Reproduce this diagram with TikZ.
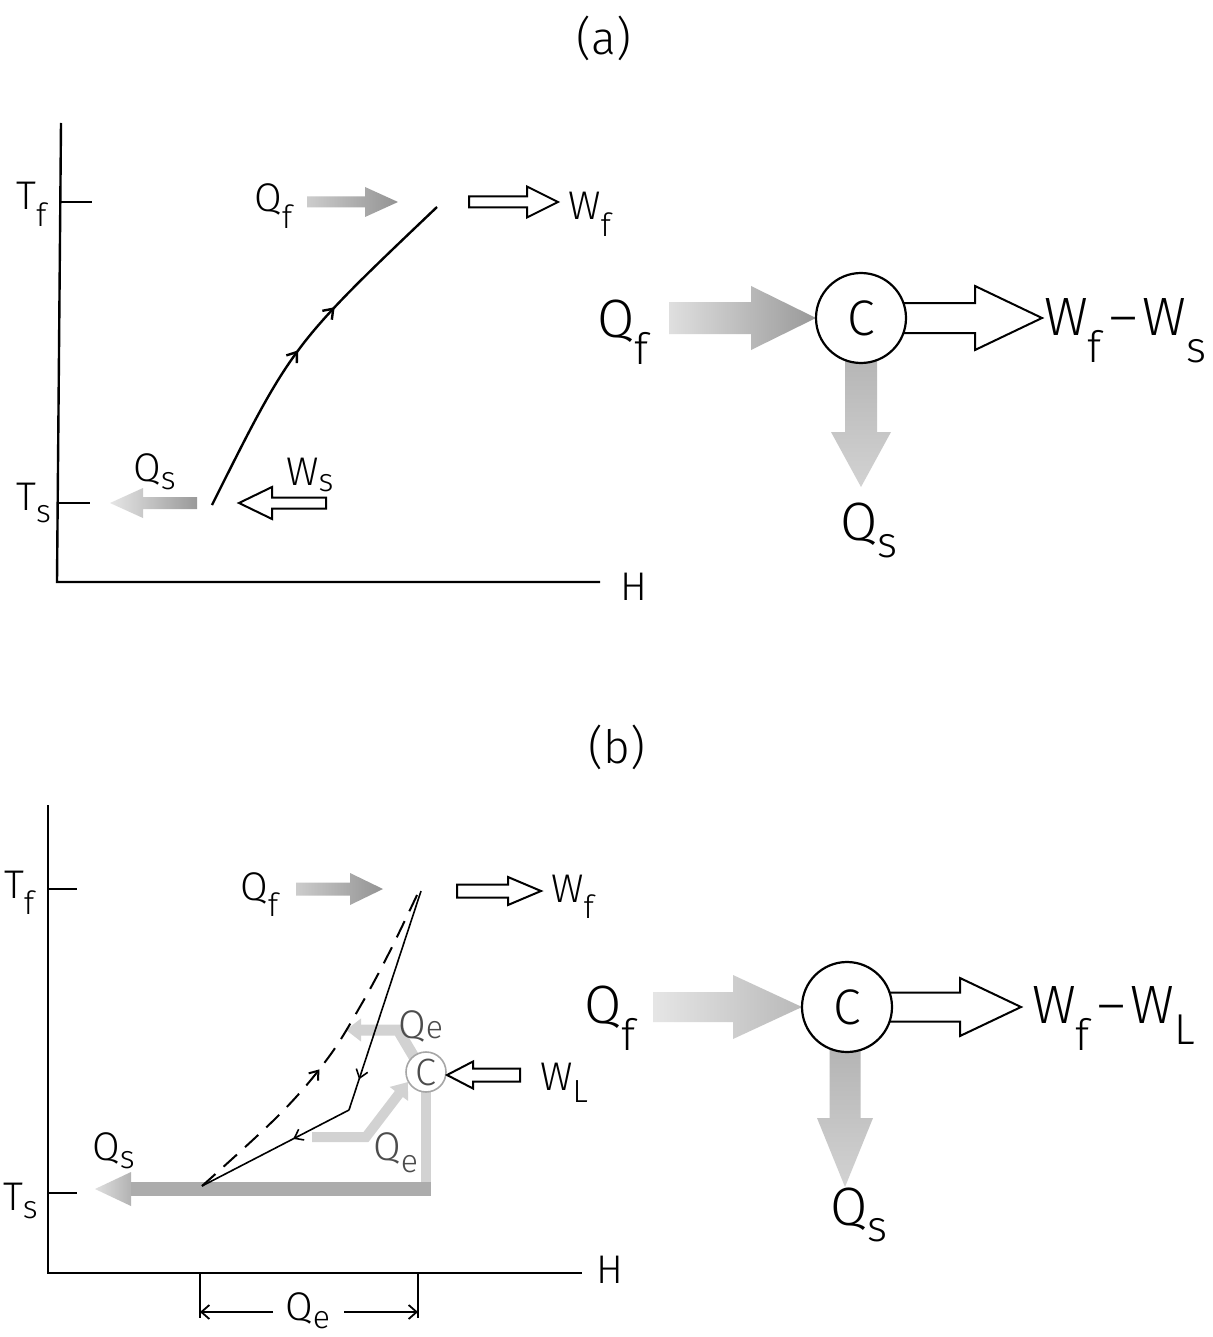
\documentclass[tikz,border=0pt]{standalone}
\usepackage{fontspec}
\usepackage{graphicx}
\setmainfont{Fira Sans Light}
\usetikzlibrary{arrows.meta,decorations.markings}
\newcommand\sbt[2][0.4em]{\raisebox{-#1}{\scalebox{0.8}{#2}}}
\newcommand\harr[7]{\path[#1] (#2,#5-#6) -- (#3,#5-#6) -- (#3,#5-#7) -- (#4,#5) -- (#3,#5+#7) -- (#3,#5+#6) -- (#2,#5+#6) -- cycle;}
\newcommand\varr[7]{\path[#1] (#2-#6,#3) -- (#2-#6,#4) -- (#2-#7,#4) -- (#2,#5) -- (#2+#7,#4) -- (#2+#6,#4) -- (#2+#6,#3) -- cycle;}
\begin{document}
\begin{tikzpicture}[x=1pt,y=-1pt,
  lbl/.style={font=\fontsize{40}{48}\selectfont, inner sep=0pt},
  big/.style={font=\fontsize{54}{64}\selectfont, inner sep=0pt},
  ttl/.style={font=\fontsize{46}{54}\selectfont, inner sep=0pt},
  axisline/.style={line width=2.4pt, black},
  thinline/.style={line width=1.8pt, black},
  hollow/.style={draw=black, line width=2pt, fill=white, line join=miter},
  hot/.style={left color=gray!40, right color=gray!85},
  hotr/.style={left color=gray!25, right color=gray!80},
  hotb/.style={left color=gray!20, right color=gray!55},
  cold/.style={left color=gray!20, right color=gray!80},
  down/.style={top color=gray!60, bottom color=gray!35},
  qshead/.style={left color=gray!25, right color=gray!60},
  pale/.style={gray!35},
  engine/.style={circle, draw=black, line width=2.2pt, fill=white, inner sep=0pt, minimum size=90pt, font=\fontsize{50}{60}\selectfont},
  mini/.style={circle, draw=gray!70, line width=1.6pt, fill=white, inner sep=0pt, minimum size=40pt, font=\fontsize{38}{44}\selectfont, text=black!70},
  cycline/.style={line width=2.4pt, black},
  barb/.style={-{Straight Barb[length=8pt,width=14pt]}},
  ]
\useasboundingbox (0,0) rectangle (1212,1337);
\fill[white] (0,0) rectangle (1212,1337);

% ================= (a) =================
\node[ttl] (ta) at (604,38) {(a)};
\coordinate (aTop) at (61,123);
\coordinate (aO) at (57,582);
\coordinate (aH) at (600,582);
\draw[axisline] (aTop) -- (aO) -- (aH);
\node[lbl, anchor=base west] (Ha) at (620,600) {H};
\coordinate (aTf0) at (61,202); \coordinate (aTf1) at (92,202);
\coordinate (aTs0) at (58,503); \coordinate (aTs1) at (90,503);
\draw[axisline] (aTf0) -- (aTf1);
\draw[axisline] (aTs0) -- (aTs1);
\node[lbl, anchor=base west] (Tfa) at (16,210) {T\sbt[0.42em]{f}};
\node[lbl, anchor=base west] (Tsa) at (16,510) {T\sbt[0.3em]{s}};

\harr{hot}{307}{365}{398}{202}{5.5}{15}
\node[lbl, anchor=base west] (Qfa) at (254,212) {Q\sbt[0.42em]{f}};
\harr{hollow}{469}{527}{558}{202}{5.5}{15.5}
\node[lbl, anchor=base west] (Wfa) at (568,220) {W\sbt[0.42em]{f}};
\harr{cold}{197}{143}{110}{503}{6}{15}
\node[lbl, anchor=base west] (Qsa) at (133,481) {Q\sbt[0.2em]{s}};
\harr{hollow}{326}{272}{239}{503}{5.5}{16}
\node[lbl, anchor=base west] (Wsa) at (286,485) {W\sbt[0.15em]{s}};

\coordinate (aLow) at (212,505);
\coordinate (aHigh) at (437,207);
\draw[cycline, postaction={decorate}, decoration={markings,
   mark=at position 0.47 with {\arrow{Straight Barb[length=9pt,width=13pt]}},
   mark=at position 0.62 with {\arrow{Straight Barb[length=9pt,width=13pt]}}}]
   (aLow) .. controls (292,345) .. (aHigh);

% right part (a)
\harr{hotr}{669}{751}{816}{318}{16}{32}
\harr{hollow}{898}{975}{1042}{318}{15}{32}
\varr{down}{861}{345}{432}{487}{16}{30}
\node[engine] (Ca) at (861,318) {C};
\node[big, anchor=base west] (QfA) at (597,337) {Q\sbt[0.5em]{f}};
\node[big, anchor=base west] (WdA) at (1044,335) {W\sbt[0.5em]{f}\kern8pt–\kern5pt W\sbt[0.5em]{s}};
\node[big, anchor=base west] (QsA) at (840,540) {Q\sbt[0.33em]{s}};

% ================= (b) =================
\node[ttl] (tb) at (617,747) {(b)};
\coordinate (bTop) at (48,805);
\coordinate (bO) at (48,1273);
\coordinate (bH) at (582,1273);
\draw[axisline] (bTop) -- (bO) -- (bH);
\node[lbl, anchor=base west] (Hb) at (596,1283) {H};
\coordinate (bTf0) at (48,889); \coordinate (bTf1) at (77,889);
\coordinate (bTs0) at (48,1193); \coordinate (bTs1) at (77,1193);
\draw[axisline] (bTf0) -- (bTf1);
\draw[axisline] (bTs0) -- (bTs1);
\node[lbl, anchor=base west] (Tfb) at (4,898) {T\sbt[0.42em]{f}};
\node[lbl, anchor=base west] (Tsb) at (3,1210) {T\sbt[0.2em]{s}};

\harr{hot}{296}{350}{383}{889}{6.5}{16}
\node[lbl, anchor=base west] (Qfb) at (240,900) {Q\sbt[0.42em]{f}};
\harr{hollow}{457}{508}{541}{891}{6.5}{14}
\node[lbl, anchor=base west] (Wfb) at (551,902) {W\sbt[0.42em]{f}};

% heat bars
\fill[pale] (421,1090) rectangle (431,1196);
\fill[gray!65] (130,1182) rectangle (431,1196);
\path[qshead] (131,1182) -- (131,1172) -- (95,1189) -- (131,1206) -- (131,1196) -- cycle;
\node[lbl, anchor=base west] (Qsb) at (92,1160) {Q\sbt[0.2em]{s}};
\draw[pale, line width=11pt, -{Triangle[length=15pt,width=22pt]}] (414,1057) -- (398,1030) -- (346,1030);
\draw[pale, line width=10pt, -{Triangle[length=15pt,width=22pt]}] (312,1137) -- (366,1137) -- (408,1082);

% cycle lines
\coordinate (bLow) at (202,1186);
\coordinate (bHigh) at (421,891);
\coordinate (bKink) at (349,1110);
\draw[cycline, line width=1.6pt, postaction={decorate}, decoration={markings,
   mark=at position 0.86 with {\arrow{Straight Barb[length=8pt,width=12pt]}}}]
   (bHigh) -- (bKink);
\draw[cycline, line width=1.6pt, postaction={decorate}, decoration={markings,
   mark=at position 0.38 with {\arrow{Straight Barb[length=8pt,width=12pt]}}}]
   (bKink) -- (bLow);
\draw[cycline, line width=2pt, dash pattern=on 18pt off 11pt, postaction={decorate}, decoration={markings,
   mark=at position 0.45 with {\arrow{Straight Barb[length=8pt,width=12pt]}}}]
   plot[smooth, tension=0.6] coordinates {(202,1186) (280,1114) (328,1058) (361,1005) (389,953) (418,893)};

\node[mini] (Cm) at (426,1072) {C};
\harr{hollow}{520}{473}{447}{1075}{6.5}{13.5}
\node[lbl, anchor=base west, text=black!70] (Qe1) at (398,1038) {Q\sbt[0em]{e}};
\node[lbl, anchor=base west, text=black!70] (Qe2) at (373,1160) {Q\sbt[0.3em]{e}};
\node[lbl, anchor=base west] (WL) at (540,1090) {W\sbt[0.3em]{L}};

% dimension Q_e
\coordinate (d0) at (200,1273); \coordinate (d0b) at (200,1318);
\coordinate (d1) at (418,1273); \coordinate (d1b) at (418,1318);
\draw[thinline] (d0) -- (d0b);
\draw[thinline] (d1) -- (d1b);
\coordinate (dl) at (200,1312); \coordinate (dr) at (418,1312);
\draw[thinline, barb] (273,1312) -- (dl);
\draw[thinline, barb] (344,1312) -- (dr);
\node[lbl, anchor=base west] (Qed) at (285,1320) {Q\sbt[0.22em]{e}};

% right part (b)
\harr{hotb}{653}{733}{802}{1007}{15}{32}
\harr{hollow}{886}{960}{1021}{1007}{14.5}{29}
\varr{down}{845}{1040}{1118}{1187}{15.5}{28}
\node[engine] (Cb) at (847,1007) {C};
\node[big, anchor=base west] (QfB) at (584,1023) {Q\sbt[0.5em]{f}};
\node[big, anchor=base west] (WdB) at (1032,1023) {W\sbt[0.5em]{f}\kern8pt–\kern5pt W\sbt[0.4em]{L}};
\node[big, anchor=base west] (QsB) at (830,1225) {Q\sbt[0.3em]{s}};
\end{tikzpicture}
\end{document}
